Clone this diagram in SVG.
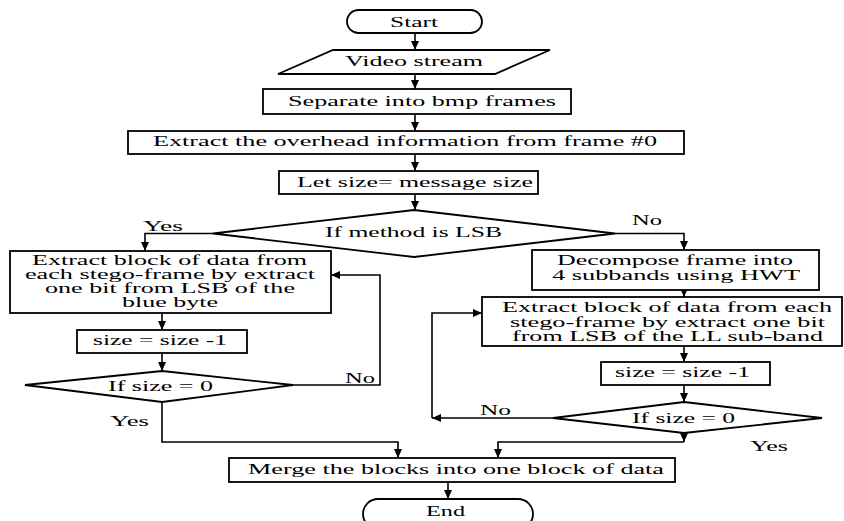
<svg xmlns="http://www.w3.org/2000/svg" width="844" height="521" viewBox="0 0 844 521" font-family="'Liberation Serif', 'DejaVu Serif', serif">
<style>
.s{fill:#fff;stroke:#000;stroke-width:1.8}
.c{fill:none;stroke:#000;stroke-width:1.6}
text{font-size:15px;fill:#000;text-anchor:middle}
.m{font-size:14px}
</style>
<defs>
<marker id="ah" markerUnits="userSpaceOnUse" markerWidth="10" markerHeight="10" viewBox="0 0 10 10" refX="9" refY="5" orient="auto">
<path d="M0,1 L9,5 L0,9 Z" fill="#000"/>
</marker>
</defs>
<rect width="844" height="521" fill="#fff"/>
<g id="connectors">
<path class="c" d="M415 33 V50" marker-end="url(#ah)"/>
<path class="c" d="M415 74 V89" marker-end="url(#ah)"/>
<path class="c" d="M415 114 V131" marker-end="url(#ah)"/>
<path class="c" d="M415 154 V171" marker-end="url(#ah)"/>
<path class="c" d="M415 194 V210" marker-end="url(#ah)"/>
<path class="c" d="M213 233.5 H145 V251" marker-end="url(#ah)"/>
<path class="c" d="M615 233.5 H684 V250" marker-end="url(#ah)"/>
<path class="c" d="M162 313 V330" marker-end="url(#ah)"/>
<path class="c" d="M162 353 V371" marker-end="url(#ah)"/>
<path class="c" d="M293 385 H380 V275 H331" marker-end="url(#ah)"/>
<path class="c" d="M162 402 V442 H398 V458" marker-end="url(#ah)"/>
<path class="c" d="M684 290 V297" marker-end="url(#ah)"/>
<path class="c" d="M684 346 V362" marker-end="url(#ah)"/>
<path class="c" d="M684 385 V402" marker-end="url(#ah)"/>
<path class="c" d="M553 418 H432" marker-end="url(#ah)"/>
<path class="c" d="M432 418 V313 H482" marker-end="url(#ah)"/>
<path class="c" d="M684 433 V442" marker-end="url(#ah)"/>
<path class="c" d="M684 442 H498 V458" marker-end="url(#ah)"/>
<path class="c" d="M448 482 V499" marker-end="url(#ah)"/>
<text x="163" y="231" textLength="40" lengthAdjust="spacingAndGlyphs">Yes</text>
<text x="647" y="225" textLength="30" lengthAdjust="spacingAndGlyphs">No</text>
<text x="360" y="383" textLength="30" lengthAdjust="spacingAndGlyphs">No</text>
<text x="129.5" y="426" textLength="39" lengthAdjust="spacingAndGlyphs">Yes</text>
<text x="495.5" y="415" textLength="31" lengthAdjust="spacingAndGlyphs">No</text>
<text x="769" y="451" textLength="38" lengthAdjust="spacingAndGlyphs">Yes</text>
</g>
<g id="start">
<rect class="s" x="347" y="10" width="135" height="23" rx="11.5"/>
<text x="414" y="27" textLength="48" lengthAdjust="spacingAndGlyphs">Start</text>
</g>
<g id="video">
<path class="s" d="M333 50 H550 L495 74 H278 Z"/>
<text x="414" y="66" textLength="138" lengthAdjust="spacingAndGlyphs">Video stream</text>
</g>
<g id="separate">
<rect class="s" x="263" y="89" width="308" height="25"/>
<text x="422" y="106" textLength="268" lengthAdjust="spacingAndGlyphs">Separate into bmp frames</text>
</g>
<g id="overhead">
<rect class="s" x="128" y="131" width="556" height="23"/>
<text x="405" y="146" textLength="504" lengthAdjust="spacingAndGlyphs">Extract the overhead information from frame #0</text>
</g>
<g id="letsize">
<rect class="s" x="279" y="171" width="259" height="23"/>
<text x="415" y="187" textLength="236" lengthAdjust="spacingAndGlyphs">Let size= message size</text>
</g>
<g id="method">
<path class="s" d="M414 210 L615 233.5 L414 257 L213 233.5 Z"/>
<text x="413.5" y="237" textLength="177" lengthAdjust="spacingAndGlyphs">If method is LSB</text>
</g>
<g id="lsbextract">
<rect class="s" x="10" y="251" width="321" height="62"/>
<text class="m" x="169.5" y="265" textLength="275" lengthAdjust="spacingAndGlyphs">Extract block of data from</text>
<text class="m" x="170" y="279" textLength="290" lengthAdjust="spacingAndGlyphs">each stego-frame by extract</text>
<text class="m" x="170" y="293" textLength="250" lengthAdjust="spacingAndGlyphs">one bit from LSB of the</text>
<text class="m" x="170" y="307" textLength="96" lengthAdjust="spacingAndGlyphs">blue byte</text>
</g>
<g id="lsbdec">
<rect class="s" x="77" y="330" width="170" height="23"/>
<text x="160" y="345" textLength="134" lengthAdjust="spacingAndGlyphs">size = size -1</text>
</g>
<g id="lsbcheck">
<path class="s" d="M162 371 L293 385 L162 402 L25 385 Z"/>
<text x="160.5" y="391" textLength="105" lengthAdjust="spacingAndGlyphs">If size = 0</text>
</g>
<g id="decompose">
<rect class="s" x="532" y="250" width="287" height="40"/>
<text class="m" x="675" y="265" textLength="236" lengthAdjust="spacingAndGlyphs">Decompose frame into</text>
<text class="m" x="676" y="280" textLength="248" lengthAdjust="spacingAndGlyphs">4 subbands using HWT</text>
</g>
<g id="hwtextract">
<rect class="s" x="482" y="297" width="360" height="49"/>
<text class="m" x="667" y="312" textLength="330" lengthAdjust="spacingAndGlyphs">Extract block of data from each</text>
<text class="m" x="667.5" y="327" textLength="315" lengthAdjust="spacingAndGlyphs">stego-frame by extract one bit</text>
<text class="m" x="667.5" y="341" textLength="311" lengthAdjust="spacingAndGlyphs">from LSB of the LL sub-band</text>
</g>
<g id="hwtdec">
<rect class="s" x="601" y="362" width="169" height="23"/>
<text x="682.5" y="377" textLength="135" lengthAdjust="spacingAndGlyphs">size = size -1</text>
</g>
<g id="hwtcheck">
<path class="s" d="M684 402 L822 418 L684 433 L553 418 Z"/>
<text x="683.5" y="423" textLength="103" lengthAdjust="spacingAndGlyphs">If size = 0</text>
</g>
<g id="merge">
<rect class="s" x="229" y="458" width="446" height="24"/>
<text x="456" y="474" textLength="416" lengthAdjust="spacingAndGlyphs">Merge the blocks into one block of data</text>
</g>
<g id="end">
<rect class="s" x="363" y="499" width="170" height="30" rx="15"/>
<text x="445.5" y="516" textLength="39" lengthAdjust="spacingAndGlyphs">End</text>
</g>
</svg>
